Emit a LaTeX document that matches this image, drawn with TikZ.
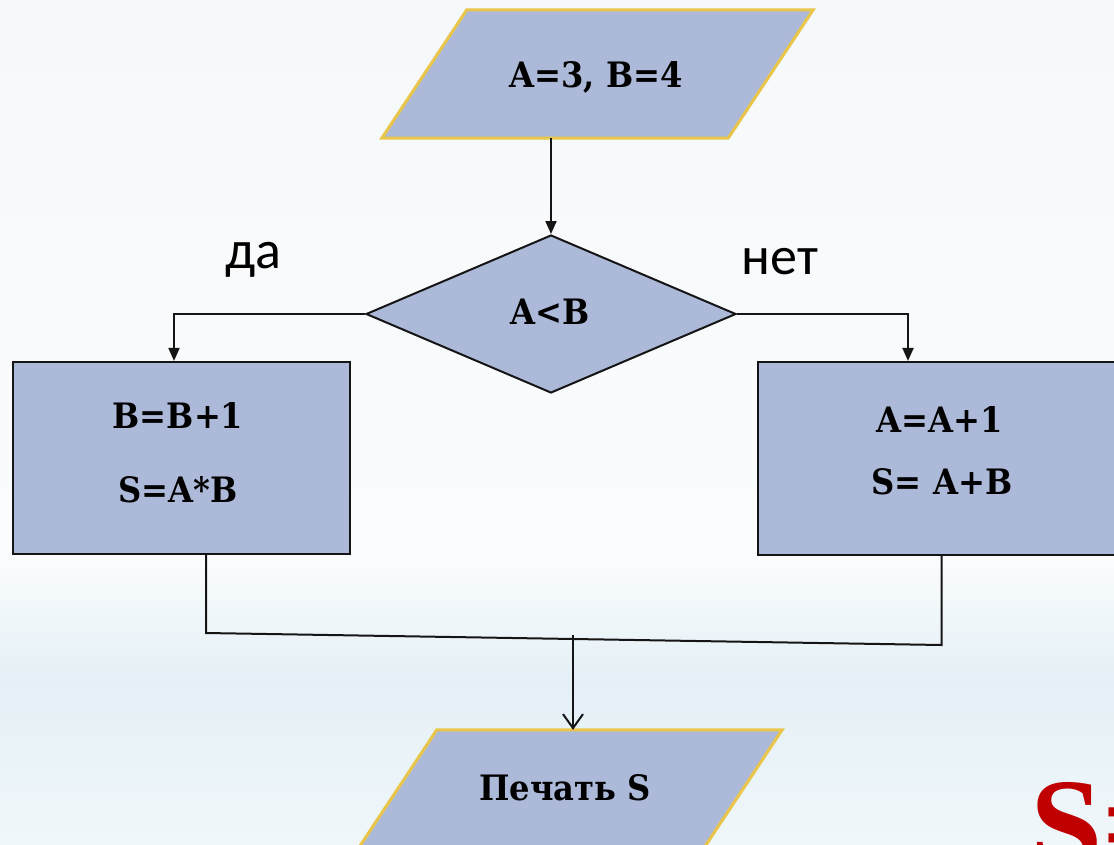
\documentclass[tikz,border=0pt]{standalone}
\usepackage{fontspec}
\setmainfont{DejaVu Serif}
\newfontfamily\boxfont[FakeStretch=0.92]{DejaVu Serif}
\newfontfamily\lblfont{Carlito}
\newfontfamily\timesfont{Liberation Serif}
\usetikzlibrary{shapes.geometric,arrows.meta}
\definecolor{boxfill}{HTML}{ADB9D8}
\definecolor{paraedge}{HTML}{E9C64A}
\definecolor{lineclr}{HTML}{151515}
\definecolor{redS}{HTML}{C00000}
\definecolor{bgtop}{HTML}{F6F9FB}
\definecolor{bgmid}{HTML}{FAFCFD}
\definecolor{bgband}{HTML}{E4F0F6}
\definecolor{bgbot}{HTML}{F0F7FA}
\begin{document}
\begin{tikzpicture}[x=1pt,y=-1pt,
  btext/.style={font=\boxfont\bfseries\fontsize{35}{40}\selectfont, text=black},
  lbl/.style={font=\lblfont\fontsize{54}{60}\selectfont, text=black},
  parabox/.style={rectangle, inner sep=0pt, minimum width=431pt, minimum height=128pt},
  parashape/.style={fill=boxfill, draw=paraedge, line width=3pt, line join=miter},
  procbox/.style={rectangle, fill=boxfill, draw=lineclr, line width=2.2pt, inner sep=0pt},
  decbox/.style={diamond, aspect=2.3, fill=boxfill, draw=lineclr, line width=2pt,
    inner sep=0pt, minimum width=370pt, minimum height=158pt},
  conn/.style={draw=lineclr, line width=2pt},
  arr/.style={conn, -{Triangle[length=13pt,width=11pt]}},
  openarr/.style={conn, -{Straight Barb[length=14pt,width=20pt]}}
]
\useasboundingbox (0,0) rectangle (1114,844);
\clip (0,0) rectangle (1114,844);
% background
\fill[top color=bgtop, bottom color=bgmid] (0,0) rectangle (1114,560);
\fill[top color=bgmid, bottom color=bgband] (0,560) rectangle (1114,680);
\fill[top color=bgband, bottom color=bgbot] (0,680) rectangle (1114,844);

% input parallelogram
\node[parabox] (in) at (597.5,74) {};
\draw[parashape] ([xshift=85pt]in.north west) -- (in.north east)
  -- ([xshift=-85pt]in.south east) -- (in.south west) -- cycle;
\node[btext] (intext) at (596,77) {A=3, B=4};

\node[decbox] (dec) at (551,314) {};
\node[btext] (dectext) at (550,312) {A<B};

\node[procbox, minimum width=337pt, minimum height=192pt] (yes) at (181.5,458) {};
\node[btext] (yes1) at (178,416) {B=B+1};
\node[btext] (yes2) at (178,490) {S=A*B};

\node[procbox, minimum width=367pt, minimum height=193pt] (no) at (941.5,458.5) {};
\node[btext] (no1) at (940,420) {A=A+1};
\node[btext] (no2) at (942,482) {S= A+B};

% output parallelogram
\node[parabox, minimum width=430pt] (out) at (567,794) {};
\draw[parashape] ([xshift=85pt]out.north west) -- (out.north east)
  -- ([xshift=-85pt]out.south east) -- (out.south west) -- cycle;
\node[btext] (outtext) at (565,788) {Печать S};

\node[lbl] (da) at (253,260) {да};
\node[lbl] (net) at (780,262) {нет};

\node[font=\timesfont\bfseries\fontsize{130}{130}\selectfont, text=redS, anchor=base west, inner sep=0pt] (bigS) at (1030,868) {S=};

% connectors
\draw[arr] (dec.north |- in.south) -- (dec.north);
\draw[arr] (dec.west) -| ([xshift=-7.5pt]yes.north);
\draw[arr] (dec.east) -| ([xshift=-33.5pt]no.north);
\coordinate (jl) at (206,633);
\coordinate (jr) at (941.5,645);
\coordinate (js) at (573,635);
\draw[conn] ([xshift=24.5pt]yes.south) -- (jl) -- (jr) -- (no.south);
\draw[openarr] (js) -- (out.north -| js);
\end{tikzpicture}
\end{document}
